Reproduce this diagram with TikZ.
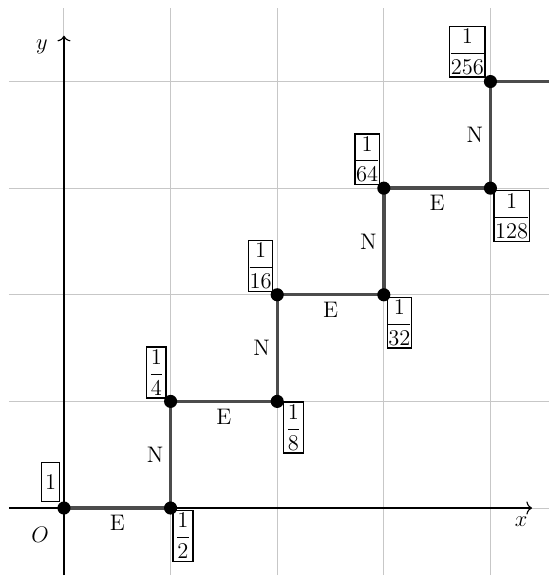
\documentclass[tikz,border=0pt]{standalone}
\usepackage{amsmath}
\usetikzlibrary{arrows.meta}
\begin{document}
\large
\nulldelimiterspace=0pt
\begin{tikzpicture}[x=2cm,y=2cm,
  gridline/.style={black!22, line width=0.55pt},
  axis/.style={black, line width=0.6pt, -{To[length=3pt,width=7pt]}},
  walk/.style={black!70, line width=1.8pt},
  dot/.style={circle, fill=black, inner sep=0pt, minimum size=7pt},
  frac/.style={draw, text=black, line width=0.75pt, inner xsep=0.6pt, inner ysep=1.5pt, minimum width=10.5pt, fill=white},
  lab/.style={inner sep=3pt, text=black}
  ]
\useasboundingbox (-0.6,-0.722) rectangle (4.55,4.765);
% grid
\foreach \x in {0,...,4} \draw[gridline] (\x,-0.63) -- (\x,4.69);
\foreach \y in {0,...,4} \draw[gridline] (-0.516,\y) -- (4.55,\y);
% axes
\coordinate (xs) at (-0.516,0);
\coordinate (xe) at (4.39,0);
\coordinate (ys) at (0,-0.63);
\coordinate (ye) at (0,4.43);
\draw[axis] (xs) -- (xe);
\draw[axis] (ys) -- (ye);
\node (xl) at (4.287,-0.131) {$x$};
\node (yl) at (-0.206,4.325) {$y$};
\node (ol) at (-0.225,-0.253) {$O$};
% walk points
\coordinate (c0) at (0,0);
\coordinate (c1) at (1,0);
\coordinate (c2) at (1,1);
\coordinate (c3) at (2,1);
\coordinate (c4) at (2,2);
\coordinate (c5) at (3,2);
\coordinate (c6) at (3,3);
\coordinate (c7) at (4,3);
\coordinate (c8) at (4,4);
\coordinate (c9) at (4.55,4);
\draw[walk] (c0) -- node[lab, below]{E} (c1)
  -- node[lab, left]{N} (c2)
  -- node[lab, below]{E} (c3)
  -- node[lab, left]{N} (c4)
  -- node[lab, below]{E} (c5)
  -- node[lab, left]{N} (c6)
  -- node[lab, below]{E} (c7)
  -- node[lab, left]{N} (c8)
  -- (c9);
% labels
\node[frac, anchor=south east, minimum height=21pt, minimum width=9.6pt, xshift=-2pt, yshift=3pt] (f0) at (c0) {$1$};
\node[frac, anchor=north west, xshift=1pt, yshift=-1pt] (f1) at (c1) {$\dfrac{1}{2}$};
\node[frac, anchor=south east, xshift=-2pt, yshift=1.5pt] (f2) at (c2) {$\dfrac{1}{4}$};
\node[frac, anchor=north west, xshift=3pt] (f3) at (c3) {$\dfrac{1}{8}$};
\node[frac, anchor=south east, xshift=-2pt, yshift=1.5pt] (f4) at (c4) {$\dfrac{1}{16}$};
\node[frac, anchor=north west, xshift=1.5pt, yshift=-1pt] (f5) at (c5) {$\dfrac{1}{32}$};
\node[frac, anchor=south east, xshift=-2pt, yshift=1.5pt] (f6) at (c6) {$\dfrac{1}{64}$};
\node[frac, anchor=north west, xshift=1.5pt, yshift=-1pt] (f7) at (c7) {$\dfrac{1}{128}$};
\node[frac, anchor=south east, xshift=-2.5pt, yshift=2pt] (f8) at (c8) {$\dfrac{1}{256}$};
% dots
\foreach \i in {0,...,8} \node[dot] (p\i) at (c\i) {};
\end{tikzpicture}
\end{document}
